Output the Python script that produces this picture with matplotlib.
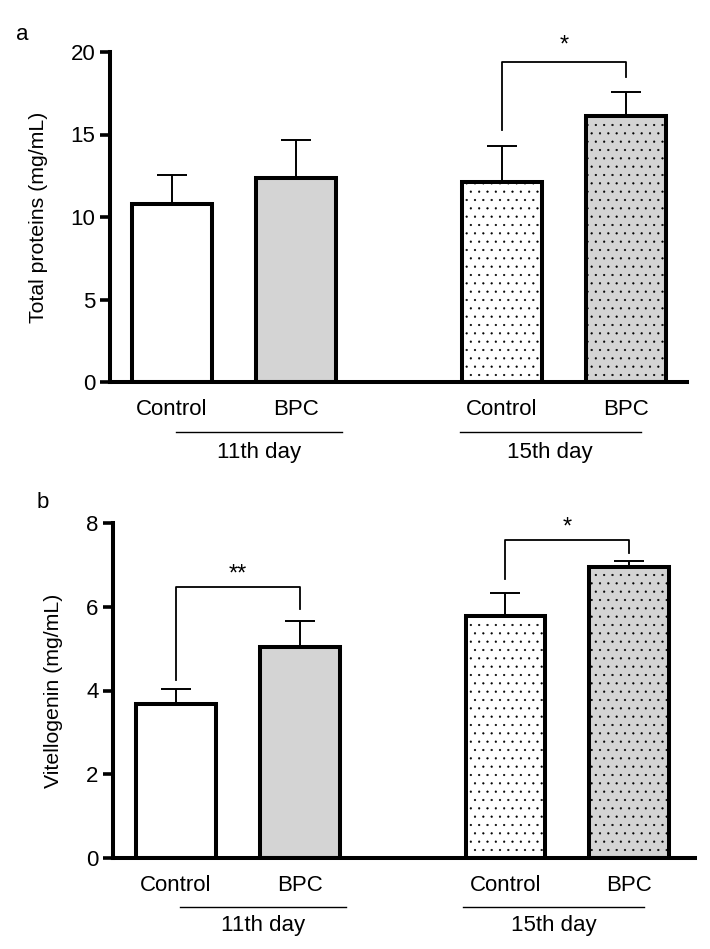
import matplotlib
matplotlib.use("Agg")
import matplotlib.pyplot as plt
from matplotlib.transforms import blended_transform_factory

plt.rcParams['font.family'] = ['Liberation Sans', 'DejaVu Sans']
plt.rcParams['hatch.linewidth'] = 0.35

groups = ["Control", "BPC", "Control", "BPC"]
day_labels = ["11th day", "15th day"]
positions = [0, 1, 2.66, 3.66]

protein_mean = [10.8, 12.35, 12.1, 16.1]
protein_err = [1.75, 2.3, 2.2, 1.5]
vtg_mean = [3.68, 5.04, 5.78, 6.95]
vtg_err = [0.36, 0.62, 0.54, 0.14]

fills = ["white", "#d4d4d4", "white", "#d4d4d4"]
hatches = [None, None, "..", ".."]

# brackets: (i, j, y_left_bottom, y_top, y_right_bottom, text, text_y)
brackets_a = [(2, 3, 15.27, 19.4, 18.5, "*", 19.75)]
brackets_b = [(0, 1, 4.25, 6.47, 5.94, "**", 6.5), (2, 3, 6.66, 7.59, 7.28, "*", 7.62)]

fig = plt.figure(figsize=(7.1, 9.49), dpi=100)
ax_a = fig.add_axes([110/710, 1-382/949, 577/710, 330/949])
ax_b = fig.add_axes([113/710, 1-858/949, 582/710, 335/949])

FS = 16

def draw(ax, means, errs, ylim, yticks, ylabel, xlim, brackets, line_y, text_y, lab_x):
    for x, m, e, fc, h in zip(positions, means, errs, fills, hatches):
        ax.bar(x, m, width=0.645, color=fc, edgecolor="black", linewidth=2.9,
               hatch=h, zorder=2)
        ax.errorbar(x, m, yerr=[[0], [e]], fmt="none", ecolor="black",
                    elinewidth=1.4, capsize=10.5, capthick=1.4, zorder=1)
    ax.set_ylim(*ylim)
    ax.set_xlim(*xlim)
    ax.set_yticks(yticks)
    ax.set_xticks(positions)
    ax.set_xticklabels(groups, fontsize=FS)
    ax.tick_params(axis="x", length=0, pad=12)
    ax.tick_params(axis="y", length=7.5, width=2.6, labelsize=FS, pad=3)
    for s in ["top", "right"]:
        ax.spines[s].set_visible(False)
    for s in ["left", "bottom"]:
        ax.spines[s].set_linewidth(2.9)
    ax.set_ylabel(ylabel, fontsize=15.3)
    ax.yaxis.set_label_coords(lab_x, 0.5)
    tr = blended_transform_factory(ax.transData, ax.transAxes)
    spans = [(0.03, 1.37), (2.32, 3.78)]
    for (x0, x1), lab in zip(spans, day_labels):
        ax.plot([x0, x1], [line_y, line_y], color="black", lw=1.0,
                transform=tr, clip_on=False)
        ax.text((x0 + x1) / 2, text_y, lab, transform=tr, ha="center",
                va="center", fontsize=FS)
    for i, j, yl, yt, yr, txt, ty in brackets:
        xi, xj = positions[i], positions[j]
        ax.plot([xi, xi, xj, xj], [yl, yt, yt, yr], color="black", lw=1.3,
                clip_on=False)
        ax.text((xi + xj) / 2, ty, txt, ha="center", va="bottom", fontsize=17,
                clip_on=False)

draw(ax_a, protein_mean, protein_err, (0, 20), [0, 5, 10, 15, 20],
     "Total proteins (mg/mL)", (-0.5, 4.153), brackets_a, -0.152, -0.214, -0.107)
draw(ax_b, vtg_mean, vtg_err, (0, 8), [0, 2, 4, 6, 8],
     "Vitellogenin (mg/mL)", (-0.508, 4.19), brackets_b, -0.146, -0.2, -0.086)

fig.text(22/710, 1-35/949, "a", fontsize=FS, ha="center", va="center")
fig.text(43/710, 1-503/949, "b", fontsize=FS, ha="center", va="center")

fig.savefig("out.png", dpi=100)
